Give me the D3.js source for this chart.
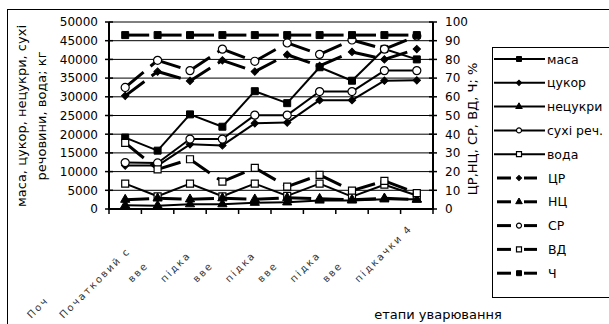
<!DOCTYPE html>
<html><head><meta charset="utf-8">
<script src="https://cdn.jsdelivr.net/npm/d3@7"></script>
<style>body{margin:0;background:#fff} text{font-family:"DejaVu Sans",sans-serif;fill:#000}</style>
</head><body><svg id="c" width="609" height="324"></svg>
<script>
// ---- data ----
const categories = ["Поч","Початковий с","вве","підка","вве","підка","вве","підка","вве","підкачки 4"];
const masa     = [19100, 15600, 25300, 22000, 31500, 28300, 37900, 34300, 42800, 40000];
const tsukor   = [11600, 11600, 17300, 17000, 22900, 23100, 29100, 29100, 34300, 34400];
const netsukry = [1000, 900, 1300, 1300, 1700, 1800, 2300, 2300, 2600, 2600];
const sukhi    = [12400, 12300, 18700, 18700, 25100, 25100, 31400, 31400, 37000, 37000];
const voda     = [6800, 3400, 6800, 3400, 6800, 3500, 6800, 3300, 6500, 3600];
const TsR = [60.5, 73.5, 68.5, 79.5, 73.5, 82.5, 76.5, 84, 80, 85.5];
const NTs = [5, 5.7, 5.2, 5.8, 5.2, 6, 5.5, 5, 5.7, 5];
const SR  = [65, 79.5, 74, 85.5, 79, 88.8, 82.7, 90.4, 85.5, 92.5];
const VD  = [35.4, 21.2, 26.6, 14.6, 22, 12, 18.2, 9.8, 15, 8.5];
const Ch  = [93, 93, 93, 93, 93, 93, 93, 93, 93, 93];
const leftTicks = [0,5000,10000,15000,20000,25000,30000,35000,40000,45000,50000];
const rightTicks = [0,10,20,30,40,50,60,70,80,90,100];

const series = [
  {name:"маса", values:masa, axis:"L", dashed:false, marker:"square", open:false},
  {name:"цукор", values:tsukor, axis:"L", dashed:false, marker:"diamond", open:false},
  {name:"нецукри", values:netsukry, axis:"L", dashed:false, marker:"triangle", open:false},
  {name:"сухі реч.", values:sukhi, axis:"L", dashed:false, marker:"circle", open:true},
  {name:"вода", values:voda, axis:"L", dashed:false, marker:"square", open:true},
  {name:"ЦР", values:TsR, axis:"R", dashed:true, marker:"diamond", open:false},
  {name:"НЦ", values:NTs, axis:"R", dashed:true, marker:"triangle", open:false},
  {name:"СР", values:SR, axis:"R", dashed:true, marker:"circle", open:true},
  {name:"ВД", values:VD, axis:"R", dashed:true, marker:"square", open:true},
  {name:"Ч", values:Ch, axis:"R", dashed:true, marker:"square", open:false}
];

const svg = d3.select("#c");
const X0 = 109, X1 = 433, Y0 = 209, Y1 = 22;
const x = d3.scaleBand().domain(d3.range(categories.length)).range([X0, X1]).padding(0);
const yL = d3.scaleLinear().domain([0, 50000]).range([Y0, Y1]);
const yR = d3.scaleLinear().domain([0, 100]).range([Y0, Y1]);
const cx = i => x(i) + x.bandwidth()/2;

// frame
svg.append("rect").attr("x",7.5).attr("y",9.5).attr("width",620).attr("height",330)
  .attr("fill","none").attr("stroke","#000").attr("stroke-width",1);

// gridlines
svg.append("g").selectAll("line").data(leftTicks.filter(d=>d>0)).join("line")
  .attr("x1",X0).attr("x2",X1).attr("y1",d=>yL(d)).attr("y2",d=>yL(d))
  .attr("stroke","#000").attr("stroke-width",1);

// axes lines
svg.append("line").attr("x1",X0).attr("x2",X0).attr("y1",Y1).attr("y2",Y0+1).attr("stroke","#000").attr("stroke-width",2);
svg.append("line").attr("x1",X1).attr("x2",X1).attr("y1",Y1).attr("y2",Y0+1).attr("stroke","#000").attr("stroke-width",2);
svg.append("line").attr("x1",X0).attr("x2",X1).attr("y1",Y0).attr("y2",Y0).attr("stroke","#000").attr("stroke-width",2);

// left ticks
const gL = svg.append("g");
gL.selectAll("line").data(leftTicks).join("line")
  .attr("x1",X0-4).attr("x2",X0+4).attr("y1",d=>yL(d)).attr("y2",d=>yL(d)).attr("stroke","#000").attr("stroke-width",1.5);
gL.selectAll("text").data(leftTicks).join("text")
  .attr("x",X0-11).attr("y",d=>yL(d)).attr("dy","0.36em").attr("text-anchor","end")
  .attr("font-size",12).text(d=>d);
// right ticks
const gR = svg.append("g");
gR.selectAll("line").data(rightTicks).join("line")
  .attr("x1",X1-4).attr("x2",X1+4).attr("y1",d=>yR(d)).attr("y2",d=>yR(d)).attr("stroke","#000").attr("stroke-width",1.5);
gR.selectAll("text").data(rightTicks).join("text")
  .attr("x",X1+12).attr("y",d=>yR(d)).attr("dy","0.36em").attr("text-anchor","start")
  .attr("font-size",12).text(d=>d);
// x ticks
svg.append("g").selectAll("line").data(d3.range(categories.length+1)).join("line")
  .attr("x1",i=>X0 + i*x.bandwidth()).attr("x2",i=>X0 + i*x.bandwidth())
  .attr("y1",Y0).attr("y2",Y0+5).attr("stroke","#000").attr("stroke-width",1.5);

// x labels
svg.append("g").selectAll("text").data(categories).join("text")
  .attr("transform",(d,i)=>{const dd = i<2 ? 106 : 70; return `translate(${cx(i)+12-dd},${Y0+4+dd}) rotate(-45)`;})
  .attr("font-size",10).attr("letter-spacing","2px").style("fill","#333").text(d=>d);

// axis titles
svg.append("text").attr("transform",`translate(26,116) rotate(-90)`).attr("text-anchor","middle")
  .attr("font-size",13).text("маса, цукор, нецукри, сухі");
svg.append("text").attr("transform",`translate(46,116) rotate(-90)`).attr("text-anchor","middle")
  .attr("font-size",13).text("речовини, вода; кг");
svg.append("text").attr("transform",`translate(477,129) rotate(-90)`).attr("text-anchor","middle")
  .attr("font-size",13).text("ЦР,НЦ, СР, ВД, Ч; %");
svg.append("text").attr("x",438).attr("y",319).attr("text-anchor","middle")
  .attr("font-size",13).text("етапи уварювання");

// markers
function markerPath(type, s){
  if(type==="square") return d3.symbol(d3.symbolSquare, s*s)();
  if(type==="diamond") return d3.symbol(d3.symbolSquare, s*s*0.55)();
  if(type==="triangle") return d3.symbol(d3.symbolTriangle, s*s*0.75)();
  return d3.symbol(d3.symbolCircle, s*s*0.8)();
}
function drawMarker(g, type, open, px, py, s){
  g.append("path").attr("d", markerPath(type,s))
    .attr("transform", `translate(${px},${py})` + (type==="diamond" ? " rotate(45)" : ""))
    .attr("fill", open ? "#fff" : "#000").attr("stroke","#000").attr("stroke-width", open?1.2:1);
}

const plot = svg.append("g");
series.forEach(s=>{
  const y = s.axis==="L" ? yL : yR;
  const g = plot.append("g");
  for(let i=0;i<s.values.length-1;i++){
    g.append("line").attr("x1",cx(i)).attr("y1",y(s.values[i]))
      .attr("x2",cx(i+1)).attr("y2",y(s.values[i+1]))
      .attr("stroke","#000").attr("stroke-width", s.dashed?3:2)
      .attr("stroke-dasharray", s.dashed ? "24,9" : null);
  }
  s.values.forEach((v,i)=> drawMarker(g, s.marker, s.open, cx(i), y(v), s.marker==="circle"?8:7));
});

// legend
const lg = svg.append("g");
lg.append("rect").attr("x",492.5).attr("y",47.5).attr("width",130).attr("height",250)
  .attr("fill","#fff").attr("stroke","#000").attr("stroke-width",1);
series.forEach((s,i)=>{
  const ly = 59 + i*23.8;
  if(!s.dashed){
    lg.append("line").attr("x1",494).attr("x2",545).attr("y1",ly).attr("y2",ly).attr("stroke","#000").attr("stroke-width",2);
  } else {
    lg.append("line").attr("x1",497).attr("x2",511).attr("y1",ly).attr("y2",ly).attr("stroke","#000").attr("stroke-width",3);
    lg.append("line").attr("x1",524).attr("x2",537).attr("y1",ly).attr("y2",ly).attr("stroke","#000").attr("stroke-width",3);
  }
  drawMarker(lg, s.marker, s.open, 519, ly, 5);
  lg.append("text").attr("x", s.dashed?548:547).attr("y",ly).attr("dy","0.36em").attr("font-size",12.5).text(s.name);
});
</script>
</body></html>
